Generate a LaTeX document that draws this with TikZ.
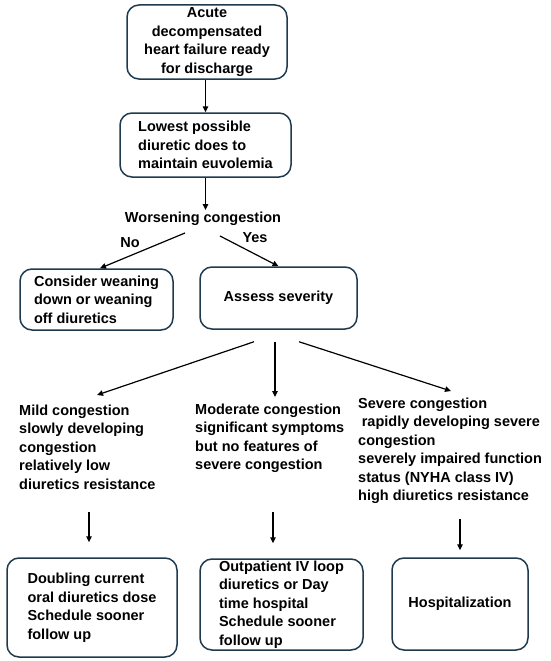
\documentclass[tikz,border=0pt]{standalone}
\usepackage{fontspec}
\setmainfont{Liberation Sans}
\usetikzlibrary{arrows.meta}
\definecolor{boxc}{HTML}{1F3A4F}
\begin{document}
\begin{tikzpicture}[x=1pt,y=-1pt,
  every node/.style={font=\fontsize{14.5}{18.5}\selectfont\bfseries},
  box/.style={draw=boxc, line width=1.5pt, rounded corners=12pt, inner sep=0pt, align=left},
  arr/.style={line width=1.2pt, -{Triangle[length=6pt,width=5.5pt]}},
  txt/.style={inner sep=0pt, align=left}]
\useasboundingbox (0,0) rectangle (550,661);

\node[box, minimum width=160pt, minimum height=74pt, align=center] (b1) at (207,42) {Acute\\decompensated\\heart failure ready\\for discharge};
\node[box, minimum width=171pt, minimum height=64pt] (b2) at (205.5,145) {Lowest possible\\diuretic does to\\maintain euvolemia};
\node[inner sep=2pt] (wc) at (203,219) {Worsening congestion};
\node (no) at (130,243) {No};
\node (yes) at (255,238) {Yes};
\node[box, minimum width=153pt, minimum height=61pt] (b3) at (96.5,299.5) {Consider weaning\\down or weaning\\off diuretics};
\node[box, minimum width=157pt, minimum height=62pt] (b4) at (278.5,298) {Assess severity};

\node[txt, anchor=west] (t1) at (19,447) {Mild congestion\\slowly developing\\congestion\\relatively low\\diuretics resistance};
\node[txt, anchor=west] (t2) at (195,438.5) {Moderate congestion\\significant symptoms\\but no features of\\severe congestion};
\node[txt, anchor=west] (t3) at (358,451) {Severe congestion\\\hspace*{.25em}rapidly developing severe\\congestion\\severely impaired function\\status (NYHA class IV)\\high diuretics resistance};

\node[box, minimum width=170pt, minimum height=99pt] (b5) at (92,607.5) {Doubling current\\oral diuretics dose\\Schedule sooner\\follow up};
\node[box, minimum width=163pt, minimum height=91pt] (b6) at (281.5,604.5) {Outpatient IV loop\\diuretics or Day\\time hospital\\Schedule sooner\\follow up};
\node[box, minimum width=136pt, minimum height=92pt] (b7) at (460,604) {Hospitalization};

\draw[arr] (b2.north |- b1.south) -- (b2.north);
\draw[arr] (b2.south) -- (b2.south |- wc.north);
\coordinate (noS) at (185,233);
\coordinate (yesS) at (220,236);
\draw[arr] (noS) -- ([xshift=3.5pt]b3.north);
\draw[arr] (yesS) -- (b4.north);

\coordinate (e1) at (97,395);
\coordinate (e2) at (275,397);
\coordinate (e3) at (451,391);
\draw[arr] ([shift={(-24.5,12)}]b4.south) -- (e1);
\draw[arr] ([shift={(-3.5,12)}]b4.south) -- (e2);
\draw[arr] ([shift={(20.5,12)}]b4.south) -- (e3);

\coordinate (l1) at (89,512);
\coordinate (l2) at (273,512);
\coordinate (l3) at (460,519);
\draw[arr] (l1) -- ([yshift=15pt]b5.north -| l1);
\draw[arr] (l2) -- ([yshift=15pt]b6.north -| l2);
\draw[arr] (l3) -- ([yshift=7pt]b7.north -| l3);
\end{tikzpicture}
\end{document}
